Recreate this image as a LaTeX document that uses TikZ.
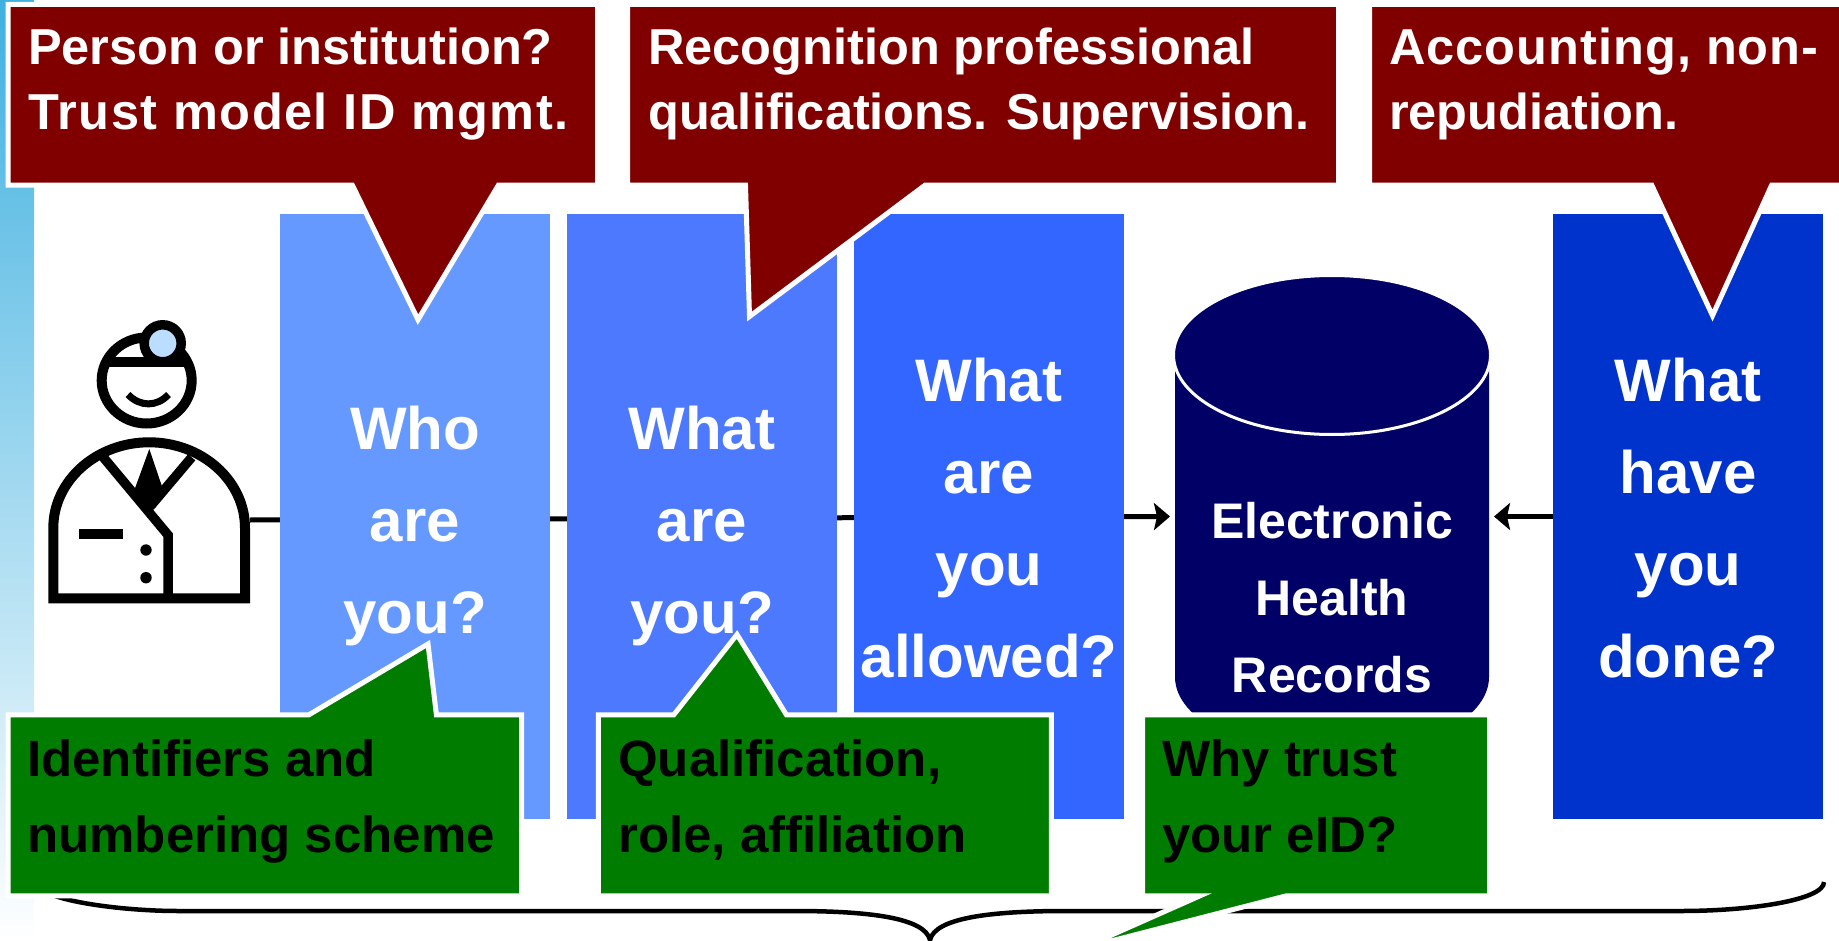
\documentclass[tikz,border=0pt]{standalone}
\usepackage{fontspec}
\setmainfont{Liberation Sans}
\usepackage{tikz}
\usetikzlibrary{arrows.meta, positioning}

\definecolor{colwho}{HTML}{6699FF}
\definecolor{colwhat}{HTML}{4D79FF}
\definecolor{colallowed}{HTML}{3366FF}
\definecolor{coldone}{HTML}{0033CC}
\definecolor{navyehr}{HTML}{000066}
\definecolor{maroonbox}{HTML}{800000}
\definecolor{greenbox}{HTML}{007C00}
\definecolor{mirror}{HTML}{BBDDFF}
\definecolor{stripblue}{HTML}{3FB0E0}

\tikzset{
    column/.style = {rectangle, minimum width=270pt, minimum height=605pt, inner sep=0pt, outer sep=0pt},
    coltext/.style = {align=center, text=white, inner sep=0pt, font=\bfseries\fontsize{60}{92}\selectfont},
    ehrtext/.style = {align=center, text=white, inner sep=0pt, font=\bfseries\fontsize{50}{76.7}\selectfont},
    redbox/.style = {fill=maroonbox, draw=white, line width=5pt},
    greenbox/.style = {fill=greenbox, draw=white, line width=5pt},
    redtext/.style = {anchor=north west, align=left, text=white, inner sep=0pt, font=\bfseries\fontsize{50.5}{64.4}\selectfont},
    greentext/.style = {anchor=north west, align=left, text=black, inner sep=0pt, font=\bfseries\fontsize{51}{76.6}\selectfont},
    link/.style = {-{Stealth[length=16pt, width=27pt, inset=3pt]}, line width=5pt},
    ink/.style = {draw=black, line width=10pt},
}

\begin{document}
\begin{tikzpicture} [x=1pt, y=-1pt]
    \useasboundingbox (0,0) rectangle (1839,941);
    \shade [top color=stripblue, bottom color=white] (0,0) rectangle (34,941);

    \node (doctor) [minimum width=202pt, minimum height=166pt, inner sep=0pt, outer sep=0pt] at (149,520) {};
    \node (who) [column] at (415,516.5) {};
    \node (what) [column, right = 17pt of who] {};
    \node (allowed) [column, right = 17pt of what] {};
    \node (done) [column, fill=coldone, right = 429pt of allowed] {};
    \node (ehr) [minimum width=314pt, minimum height=479pt, inner sep=0pt, outer sep=0pt] at (1332,516.5) {};

    \draw [link] (doctor.east) -- ([xshift=-5pt] ehr.west);
    \draw [link] (done.west) -- ([xshift=5pt] ehr.east);
    % the line runs behind the columns
    \node [column, fill=colwho] at (who) {};
    \node [column, fill=colwhat] at (what) {};
    \node [column, fill=colallowed] at (allowed) {};

    \fill [navyehr] (1175,355) -- (1175,677) .. controls (1175,720) and (1245,755) .. (1332,755)
        .. controls (1419,755) and (1489,720) .. (1489,677) -- (1489,355) -- cycle;
    \draw [fill=navyehr, draw=white, line width=3pt] (1332,355) ellipse (158.5 and 79.5);

    \node (wholabel) [coltext, yshift=-9.5pt] at (who) {Who\\are\\you?};
    \node (whatlabel) [coltext, yshift=-9.5pt] at (what) {What\\are\\you?};
    \node (allowedlabel) [coltext, yshift=-2pt] at (allowed) {What\\are\\you\\allowed?};
    \node (donelabel) [coltext, yshift=-2pt] at (done) {What\\have\\you\\done?};
    \node (ehrlabel) [ehrtext, yshift=-81pt] at (ehr) {Electronic\\Health\\Records};

    % doctor
    \draw [ink] (146.7,380.5) ellipse (45 and 43);
    \draw [ink] (107,362.3) -- (187,362.3);
    \draw [ink, line width=9.5pt, fill=mirror] (162.7,343.3) circle (18.5);
    \draw [line width=7pt] (128,394.5) .. controls (140,407) and (157,407) .. (168.5,394.5);
    \draw [ink] (53.3,598.3) -- (53.3,528) .. controls (53.3,480.7) and (96.3,442.3) .. (149.2,442.3)
        .. controls (202,442.3) and (245,480.7) .. (245,528) -- (245,598.3) -- cycle;
    \draw [ink, line width=9.5pt] (103.3,457.3) -- (168,535) -- (168,595);
    \draw [ink, line width=9.5pt] (191.7,457.3) -- (150,506.7);
    \fill (149.3,449) -- (135,488.3) -- (150,515) -- (162.3,487.3) -- cycle;
    \fill (79,529) rectangle (123,539);
    \fill (146,550) circle (5.7);
    \fill (146,577.7) circle (5.7);

    % brace
    \draw [line width=4.5pt] (36,882) .. controls (36,900) and (120,911) .. (178,911) -- (794,911)
        .. controls (870,911) and (925,918) .. (930,940) .. controls (935,918) and (990,911) .. (1066,911)
        -- (1681,911) .. controls (1750,911) and (1824,900) .. (1824,882);

    % red questions
    \draw [redbox] (8,4.3) -- (597.5,4.3) -- (597.5,185.2) -- (498.4,185.2) -- (418,319.7) -- (352.4,185.2) -- (8,185.2) -- cycle;
    \draw [redbox] (627.5,4.3) -- (1338.5,4.3) -- (1338.5,185.2) -- (925,185.2) -- (749.5,316.5) -- (745.5,185.2) -- (627.5,185.2) -- cycle;
    \draw [redbox] (1369.5,4.3) -- (1845,4.3) -- (1845,185.2) -- (1771.6,185.2) -- (1712.5,315.6) -- (1651.8,185.2) -- (1369.5,185.2) -- cycle;
    \node (person) [redtext] at (28,28) {Person or institution?\\{\addfontfeature{LetterSpace=3}Trust model ID mgmt.}};
    \node (recognition) [redtext] at (648,28) {Recognition professional\\qualifications. Supervision.};
    \node (accounting) [redtext] at (1389,28) {{\addfontfeature{LetterSpace=2}Accounting, non-}\\repudiation.};

    % green questions
    \draw [greenbox] (8,714.8) -- (308.9,714.8) -- (428,644) -- (436.4,714.8) -- (521.5,714.8) -- (521.5,895.8) -- (8,895.8) -- cycle;
    \draw [greenbox] (598.3,714.8) -- (673.8,714.8) -- (737,634.5) -- (786.4,714.8) -- (1051.3,714.8) -- (1051.3,895.8) -- (598.3,895.8) -- cycle;
    \draw [greenbox] (1142.5,714.8) -- (1489.5,714.8) -- (1489.5,895.8) -- (1286.3,895.8) -- (1080,949) -- (1200,895.8) -- (1142.5,895.8) -- cycle;
    \node (identifiers) [greentext] at (27,739) {Identifiers and\\numbering scheme};
    \node (qualification) [greentext] at (618,739) {Qualification,\\role, affiliation};
    \node (trust) [greentext] at (1162,739) {Why trust\\your eID?};
\end{tikzpicture}
\end{document}
